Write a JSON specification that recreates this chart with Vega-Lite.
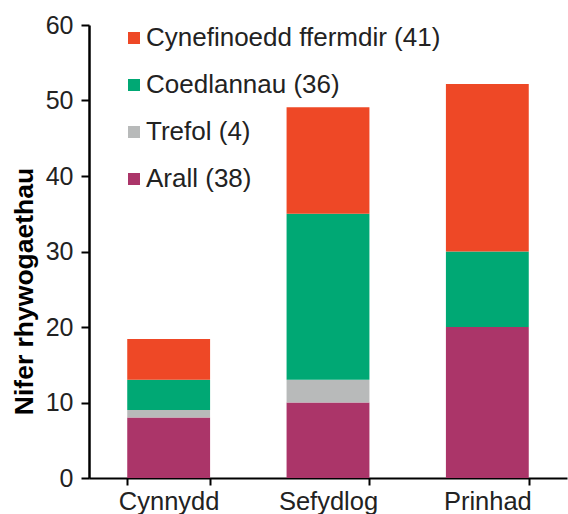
{
  "$schema": "https://vega.github.io/schema/vega-lite/v6.json",
  "width": 478,
  "height": 453,
  "autosize": "none",
  "padding": {"left": 89, "top": 25, "right": 1, "bottom": 36},
  "background": "white",
  "config": {
    "font": "Liberation Sans",
    "view": {"stroke": null}
  },
  "data": {
    "values": [
      {"tuedd": "Cynnydd", "categori": "Arall (38)", "trefn": 1, "nifer": 8},
      {"tuedd": "Cynnydd", "categori": "Trefol (4)", "trefn": 2, "nifer": 1},
      {"tuedd": "Cynnydd", "categori": "Coedlannau (36)", "trefn": 3, "nifer": 4},
      {"tuedd": "Cynnydd", "categori": "Cynefinoedd ffermdir (41)", "trefn": 4, "nifer": 5.4},
      {"tuedd": "Sefydlog", "categori": "Arall (38)", "trefn": 1, "nifer": 10},
      {"tuedd": "Sefydlog", "categori": "Trefol (4)", "trefn": 2, "nifer": 3},
      {"tuedd": "Sefydlog", "categori": "Coedlannau (36)", "trefn": 3, "nifer": 22},
      {"tuedd": "Sefydlog", "categori": "Cynefinoedd ffermdir (41)", "trefn": 4, "nifer": 14.1},
      {"tuedd": "Prinhad", "categori": "Arall (38)", "trefn": 1, "nifer": 20},
      {"tuedd": "Prinhad", "categori": "Trefol (4)", "trefn": 2, "nifer": 0},
      {"tuedd": "Prinhad", "categori": "Coedlannau (36)", "trefn": 3, "nifer": 10},
      {"tuedd": "Prinhad", "categori": "Cynefinoedd ffermdir (41)", "trefn": 4, "nifer": 22.2}
    ]
  },
  "mark": {"type": "bar"},
  "encoding": {
    "x": {
      "field": "tuedd",
      "type": "nominal",
      "sort": ["Cynnydd", "Sefydlog", "Prinhad"],
      "scale": {"paddingInner": 0.48, "paddingOuter": 0.24},
      "axis": {
        "title": null,
        "labelAngle": 0,
        "labelFontSize": 25.5,
        "labelColor": "#222222",
        "labelPadding": 4,
        "domainColor": "black",
        "domainWidth": 2,
        "tickColor": "black",
        "tickWidth": 2,
        "tickSize": 7,
        "tickBand": "extent",
        "grid": false
      }
    },
    "y": {
      "field": "nifer",
      "type": "quantitative",
      "stack": "zero",
      "scale": {"domain": [0, 60], "nice": false},
      "axis": {
        "title": "Nifer rhywogaethau",
        "titleFontSize": 26.5,
        "titleFontWeight": "bold",
        "titleColor": "black",
        "titleAngle": -90,
        "titleAlign": "center",
        "titleBaseline": "alphabetic",
        "titleX": -57,
        "titleY": 266,
        "values": [0, 10, 20, 30, 40, 50, 60],
        "labelFontSize": 25,
        "labelColor": "#222222",
        "labelPadding": 8,
        "domainColor": "black",
        "domainWidth": 2.5,
        "tickColor": "black",
        "tickWidth": 2,
        "tickSize": 8,
        "grid": false
      }
    },
    "color": {
      "field": "categori",
      "type": "nominal",
      "scale": {
        "domain": ["Cynefinoedd ffermdir (41)", "Coedlannau (36)", "Trefol (4)", "Arall (38)"],
        "range": ["#EE4826", "#00A874", "#B8BABA", "#AB3569"]
      },
      "legend": {
        "title": null,
        "orient": "none",
        "legendX": 32,
        "legendY": 0,
        "symbolType": "square",
        "symbolSize": 144,
        "symbolStrokeWidth": 0,
        "labelFontSize": 26,
        "labelColor": "#222222",
        "labelOffset": -1,
        "rowPadding": 21,
        "labelLimit": 400
      }
    },
    "order": {"field": "trefn", "type": "quantitative", "sort": "ascending"}
  }
}
